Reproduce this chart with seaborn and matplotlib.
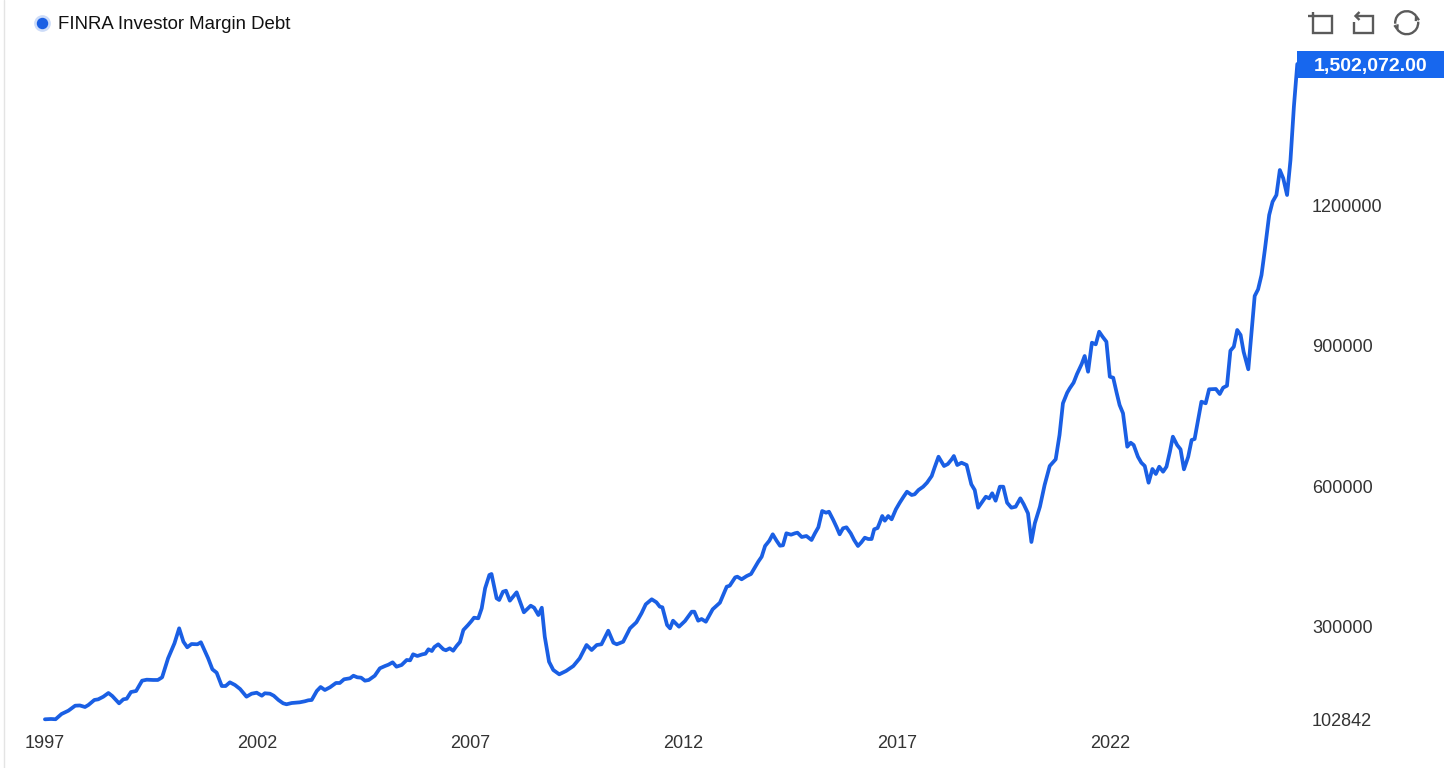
"""
FINRA investor margin debt, 1997 onwards.
Single blue line, right-hand value axis, last value tagged in a box.
"""

import numpy as np
import matplotlib
matplotlib.use("Agg")
import matplotlib.pyplot as plt
import seaborn as sns
from matplotlib.lines import Line2D
from matplotlib.patches import Rectangle, Arc
from matplotlib.transforms import IdentityTransform


# ─── Data ─────────────────────────────────────────────────────────────────────

SERIES_NAME = "FINRA Investor Margin Debt"

years = [
    # 1997 - 2001
    1997.01, 1997.15, 1997.26, 1997.40, 1997.56, 1997.72, 1997.83, 1997.95, 1998.03, 1998.17,
    1998.26, 1998.38, 1998.50, 1998.59, 1998.75, 1998.85, 1998.93, 1999.03, 1999.15, 1999.29,
    1999.40, 1999.55, 1999.66, 1999.76, 1999.90, 2000.05, 2000.16, 2000.26, 2000.35, 2000.45,
    2000.59, 2000.67, 2000.77, 2000.84, 2000.94, 2001.04, 2001.16, 2001.25, 2001.35, 2001.47,
    2001.59, 2001.74, 2001.86,
    # 2002 - 2007 peak
    2001.98, 2002.10, 2002.17, 2002.29, 2002.38, 2002.49, 2002.60, 2002.68, 2002.80, 2002.99,
    2003.11, 2003.19, 2003.27, 2003.39, 2003.48, 2003.58, 2003.70, 2003.84, 2003.93, 2004.03,
    2004.17, 2004.25, 2004.34, 2004.43, 2004.52, 2004.61, 2004.75, 2004.87, 2004.99, 2005.07,
    2005.17, 2005.26, 2005.38, 2005.50, 2005.58, 2005.65, 2005.75, 2005.87, 2005.94, 2006.01,
    2006.09, 2006.15, 2006.24, 2006.36, 2006.42, 2006.51, 2006.59, 2006.67, 2006.75, 2006.83,
    2006.94, 2007.02, 2007.08, 2007.18, 2007.26, 2007.34, 2007.44, 2007.49,
    # 2007 - 2012
    2007.61, 2007.67, 2007.76, 2007.83, 2007.92, 2008.08, 2008.25, 2008.41, 2008.49, 2008.59,
    2008.67, 2008.74, 2008.84, 2008.94, 2009.08, 2009.24, 2009.41, 2009.56, 2009.72, 2009.84,
    2009.96, 2010.07, 2010.23, 2010.35, 2010.43, 2010.58, 2010.74, 2010.89, 2011.01, 2011.11,
    2011.25, 2011.36, 2011.44, 2011.50, 2011.61, 2011.68, 2011.75, 2011.89, 2012.03, 2012.19,
    2012.25, 2012.34, 2012.42, 2012.52, 2012.68, 2012.85,
    # 2013 - 2018
    2013.01, 2013.08, 2013.21, 2013.26, 2013.36, 2013.48, 2013.58, 2013.68, 2013.75, 2013.83,
    2013.91, 2014.01, 2014.09, 2014.18, 2014.26, 2014.33, 2014.41, 2014.52, 2014.61, 2014.67,
    2014.77, 2014.88, 2015.00, 2015.08, 2015.16, 2015.25, 2015.34, 2015.41, 2015.51, 2015.59,
    2015.66, 2015.74, 2015.82, 2015.92, 2016.00, 2016.09, 2016.17, 2016.25, 2016.33, 2016.41,
    2016.47, 2016.55, 2016.60, 2016.66, 2016.72, 2016.80, 2016.88, 2016.98, 2017.07, 2017.16,
    2017.24, 2017.35, 2017.42, 2017.51, 2017.62, 2017.71, 2017.82, 2017.89, 2017.98, 2018.05,
    2018.11, 2018.20, 2018.29, 2018.34,
    # 2018 - 2022
    2018.42, 2018.52, 2018.64, 2018.75, 2018.83, 2018.91, 2019.02, 2019.09, 2019.17, 2019.24,
    2019.32, 2019.42, 2019.50, 2019.59, 2019.69, 2019.79, 2019.90, 2019.98, 2020.08, 2020.16,
    2020.24, 2020.36, 2020.47, 2020.59, 2020.73, 2020.82, 2020.90, 2021.00, 2021.06, 2021.15,
    2021.23, 2021.34, 2021.41, 2021.49, 2021.58, 2021.67, 2021.75, 2021.83, 2021.92, 2022.00,
    2022.08, 2022.16, 2022.23, 2022.31, 2022.41, 2022.49, 2022.56, 2022.66, 2022.74, 2022.82,
    # 2023 - end
    2022.91, 2023.00, 2023.08, 2023.16, 2023.25, 2023.33, 2023.41, 2023.48, 2023.58, 2023.66,
    2023.74, 2023.84, 2023.92, 2023.99, 2024.15, 2024.25, 2024.33, 2024.49, 2024.58, 2024.66,
    2024.75, 2024.83, 2024.91, 2024.99, 2025.07, 2025.14, 2025.25, 2025.32, 2025.40, 2025.48,
    2025.56, 2025.64, 2025.74, 2025.82, 2025.91, 2025.99, 2026.07, 2026.16, 2026.24, 2026.32,
    2026.40,
]

margin_debt = [
    # 1997 - 2001
    102842, 103500, 103000, 114200, 121200, 131900, 132400, 129100, 133400, 144100,
    145500, 151100, 159000, 152600, 137000, 145500, 146800, 161100, 163300, 185300,
    187400, 186800, 186800, 192500, 233100, 265100, 297100, 268500, 256600, 263600,
    263000, 267300, 247200, 233100, 209600, 202300, 173900, 173900, 181800, 176100,
    167500, 151100, 157500,
    # 2002 - 2007 peak
    159600, 153200, 158400, 157500, 153200, 144100, 137000, 134900, 137600, 139100,
    141300, 143400, 144100, 163300, 171800, 165400, 171200, 180400, 180400, 188300,
    190400, 195900, 192500, 191700, 185300, 186800, 195900, 211700, 216600, 219400,
    224500, 215200, 218800, 229500, 228800, 241600, 238000, 241600, 242900, 252300,
    248700, 257200, 263000, 252300, 250200, 254400, 249300, 259400, 267900, 293500,
    304200, 312700, 319800, 318500, 339800, 382600, 411000, 413100,
    # 2007 - 2012
    361200, 357600, 375300, 377400, 356100, 374000, 331300, 345400, 341100, 325500,
    341100, 279200, 225800, 208100, 198900, 206000, 216600, 233100, 261500, 250800,
    261500, 263000, 292000, 266400, 263000, 268500, 297100, 310000, 329200, 348400,
    359100, 352700, 343300, 342000, 304200, 297100, 313400, 300600, 312700, 332600,
    332600, 313400, 317000, 311200, 337700, 351800,
    # 2013 - 2018
    386000, 388100, 406000, 407300, 401800, 408800, 413100, 428700, 439400, 450000,
    472900, 484200, 497900, 484200, 473500, 474400, 500000, 497000, 500000, 501300,
    492100, 494200, 485700, 500000, 512800, 547600, 544000, 546100, 528400, 512800,
    497900, 510700, 512800, 500000, 485700, 472900, 480800, 490600, 487800, 487800,
    508500, 511300, 522600, 536900, 526900, 536900, 529900, 551200, 565300, 578100,
    588800, 581800, 583300, 592400, 599500, 608000, 622300, 640900, 663500, 652900,
    643700, 648000, 658000, 665000,
    # 2018 - 2022
    645800, 650700, 645800, 604600, 592400, 554700, 569000, 578100, 574700, 585400,
    569600, 599500, 599500, 565300, 554700, 556800, 574700, 561900, 542700, 481400,
    521300, 556800, 603100, 643700, 658000, 709900, 777600, 800200, 809600, 821600,
    840100, 861500, 878600, 845000, 907000, 903500, 930400, 919800, 909100, 834400,
    832200, 800200, 773900, 756200, 684900, 693400, 688500, 663500, 650700, 643700,
    # 2023 - end
    608000, 637300, 626600, 642200, 631500, 642200, 674200, 706300, 688500, 679300,
    636600, 663500, 699200, 701300, 781000, 777600, 807500, 808100, 797400, 810900,
    815100, 889900, 898400, 934100, 923400, 887700, 850200, 923400, 1006700, 1021000,
    1051500, 1106400, 1179600, 1208000, 1222300, 1275700, 1258000, 1222300, 1297100, 1410900,
    1502072,
]

x_ticks       = [1997, 2002, 2007, 2012, 2017, 2022]
x_tick_labels = ["1997", "2002", "2007", "2012", "2017", "2022"]
y_ticks       = [102842, 300000, 600000, 900000, 1200000]
y_tick_labels = ["102842", "300000", "600000", "900000", "1200000"]

assert len(years) == len(margin_debt)


# ─── Style ────────────────────────────────────────────────────────────────────

W, H = 1456, 768
LINE_BLUE  = "#1a5fe4"
TAG_BLUE   = "#1767ee"
HALO_BLUE  = "#cddcf8"
TEXT_GREY  = "#333333"
ICON_GREY  = "#5a5a5a"


def icon_line(fig, pts, lw=1.7):
    """Polyline in image pixel coords (origin top-left)."""
    fig.add_artist(Line2D([p[0] for p in pts], [H - p[1] for p in pts],
                          transform=IdentityTransform(), color=ICON_GREY,
                          lw=lw, solid_capstyle="butt", solid_joinstyle="miter"))


def draw_toolbox(fig):
    # zoom / crop icon
    icon_line(fig, [(1312.7, 11.5), (1312.7, 33.3), (1331.7, 33.3),
                    (1331.7, 16.0), (1307.5, 16.0)])
    # back icon
    icon_line(fig, [(1356.0, 16.0), (1372.7, 16.0), (1372.7, 33.3),
                    (1353.5, 33.3), (1353.5, 22.0)])
    icon_line(fig, [(1359.5, 12.0), (1355.5, 16.0), (1359.5, 20.0)])
    # restore icon: two arcs with arrow tips
    cx, cy, r = 1406.7, 22.7, 11.5
    for t1, t2 in [(35, 185), (215, 365)]:
        fig.add_artist(Arc((cx, H - cy), 2 * r, 2 * r, theta1=t1, theta2=t2,
                           transform=IdentityTransform(), color=ICON_GREY, lw=1.7))
    for ang, d in [(35, 1), (215, 1)]:
        a = np.deg2rad(ang)
        ex, ey = cx + r * np.cos(a), cy - r * np.sin(a)
        icon_line(fig, [(ex - 5 * d * np.cos(a + 0.9), ey + 5 * d * np.sin(a + 0.9)),
                        (ex, ey),
                        (ex + 5 * d * np.sin(a), ey + 5 * d * np.cos(a))])


# ─── Plot ─────────────────────────────────────────────────────────────────────

def main():
    sns.set_theme(style="white")
    plt.rcParams["font.family"] = ["Liberation Sans", "DejaVu Sans"]

    fig = plt.figure(figsize=(W / 100, H / 100), dpi=100)
    fig.patch.set_facecolor("white")

    # plot area: 1997 at x=44.5px, last point at x=1297.3px; min/max at y=719.3/64px
    ax = fig.add_axes([44.5 / W, 1 - 719.3 / H,
                       (1297.3 - 44.5) / W, (719.3 - 64.0) / H])

    sns.lineplot(x=years, y=margin_debt, ax=ax, estimator=None,
                 color=LINE_BLUE, linewidth=2.7, clip_on=False)

    ax.set_xlim(1997.0, years[-1])
    ax.set_ylim(min(margin_debt), max(margin_debt))

    ax.set_xticks(x_ticks)
    ax.set_xticklabels(x_tick_labels)
    ax.set_yticks(y_ticks)
    ax.set_yticklabels(y_tick_labels)
    ax.yaxis.tick_right()
    ax.tick_params(axis="y", length=0, pad=10.6, labelsize=13,
                   labelcolor=TEXT_GREY, labelright=True, labelleft=False)
    ax.tick_params(axis="x", length=0, pad=11, labelsize=13, labelcolor=TEXT_GREY)
    for lbl in ax.get_yticklabels():
        lbl.set_horizontalalignment("left")
    ax.set_xlabel("")
    ax.set_ylabel("")
    for s in ax.spines.values():
        s.set_visible(False)
    ax.grid(False)

    # last value tag, anchored on the final data point
    lx, ly = ax.transData.transform((years[-1], margin_debt[-1]))
    box_w, box_h = 147, 27
    fig.add_artist(Rectangle((lx, ly - box_h / 2), box_w, box_h,
                             transform=IdentityTransform(), facecolor=TAG_BLUE,
                             edgecolor="none", zorder=5))
    fig.text((lx + box_w / 2) / W, ly / H, f"{margin_debt[-1]:,.2f}",
             ha="center", va="center_baseline", color="white",
             fontsize=14, fontweight="bold", zorder=6)

    # legend (dot with halo + series name)
    fig.add_artist(Line2D([41.7], [H - 22.7], transform=IdentityTransform(),
                          marker="o", markersize=11, color=HALO_BLUE, lw=0))
    fig.add_artist(Line2D([41.7], [H - 22.7], transform=IdentityTransform(),
                          marker="o", markersize=7.2, color=LINE_BLUE, lw=0))
    fig.text(58 / W, 1 - 22.5 / H, SERIES_NAME, ha="left", va="center_baseline",
             fontsize=13.4, color="#111111")

    draw_toolbox(fig)

    # faint container edge on the left
    fig.add_artist(Line2D([3.5, 3.5], [0, H], transform=IdentityTransform(),
                          color="#e4e4e4", lw=1.0))

    fig.savefig("out.png", dpi=100, facecolor="white")
    plt.close(fig)


if __name__ == "__main__":
    main()
